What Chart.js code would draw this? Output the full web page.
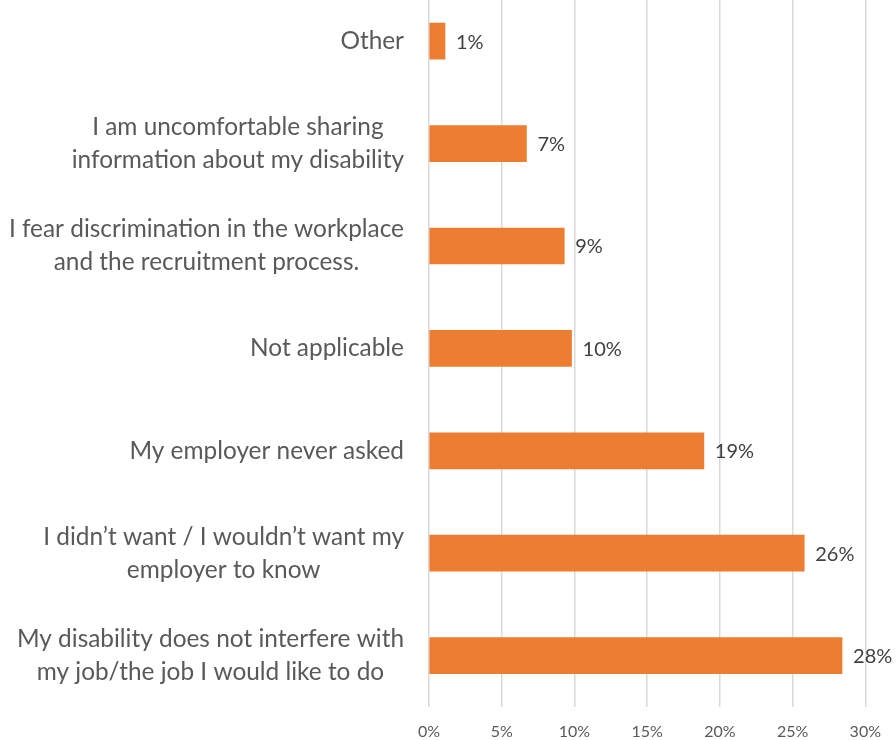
<!DOCTYPE html>
<html>
<head>
<meta charset="utf-8">
<script src="https://cdn.jsdelivr.net/npm/chart.js@4/dist/chart.umd.min.js"></script>
<style>
  html, body { margin: 0; padding: 0; background: #fff; overflow: hidden; }
  #wrap { position: absolute; left: 0; top: -10px; width: 896px; height: 780px; }
</style>
</head>
<body>
<div id="wrap"><canvas id="chart"></canvas></div>
<script>
const reasons = [
    ["Other"],
    ["I am uncomfortable sharing", "information about my disability"],
    ["I fear discrimination in the workplace", "and the recruitment process."],
    ["Not applicable"],
    ["My employer never asked"],
    ["I didn\u2019t want / I wouldn\u2019t want my", "employer to know"],
    ["My disability does not interfere with", "my job/the job I would like to do"],
]
const shares = [1.1, 6.7, 9.3, 9.8, 18.9, 25.8, 28.4]
const ticks = [0, 5, 10, 15, 20, 25, 30]

const orange = "#ED7D31"
const grey = "#595959"
const fontFamily = "Lato, 'Open Sans', sans-serif"

// category labels: each block centred on itself, right edge at 404
const reasonLabels = {
    id: 'reasonLabels',
    afterDraw(chart) {
        const ctx = chart.ctx
        const y = chart.scales.y
        ctx.save()
        ctx.font = "24.4px " + fontFamily
        ctx.fillStyle = grey
        ctx.textBaseline = 'middle'
        ctx.textAlign = 'center'
        const lineH = 33
        reasons.forEach((lines, i) => {
            const w = Math.max(...lines.map(l => ctx.measureText(l).width))
            const cx = 404 - w / 2
            const cy = y.getPixelForValue(i)
            lines.forEach((l, j) => {
                ctx.fillText(l, cx, cy + (j - (lines.length - 1) / 2) * lineH)
            })
        })
        ctx.restore()
    }
}

// value labels to the right of each bar
const valueLabels = {
    id: 'valueLabels',
    afterDatasetsDraw(chart) {
        const ctx = chart.ctx
        const meta = chart.getDatasetMeta(0)
        ctx.save()
        ctx.font = "20px " + fontFamily
        ctx.fillStyle = "#404040"
        ctx.textBaseline = 'middle'
        ctx.textAlign = 'left'
        meta.data.forEach((bar, i) => {
            ctx.fillText(Math.round(shares[i]) + "%", bar.x + 11, bar.y + 1)
        })
        ctx.restore()
    }
}

new Chart(document.getElementById('chart'), {
    type: 'bar',
    data: {
        labels: reasons.map(r => r.join(' ')),
        datasets: [{
            data: shares,
            backgroundColor: orange,
            borderColor: orange,
            borderWidth: 0,
            barThickness: 36,
        }]
    },
    options: {
        indexAxis: 'y',
        responsive: true,
        maintainAspectRatio: false,
        animation: false,
        layout: { padding: { left: 0, right: 24, top: 0, bottom: 14 } },
        plugins: {
            legend: { display: false },
            tooltip: { enabled: false },
        },
        scales: {
            x: {
                min: 0,
                max: 30,
                afterBuildTicks(scale) {
                    scale.ticks = ticks.map(v => ({ value: v }))
                },
                grid: { color: "#D9D9D9", lineWidth: 1.5, drawTicks: false },
                border: { display: false },
                ticks: {
                    padding: 15,
                    color: grey,
                    font: { family: fontFamily, size: 16 },
                    callback: v => v + "%",
                },
            },
            y: {
                grid: { display: false },
                border: { display: false },
                ticks: { display: false },
                afterFit(scale) { scale.width = 429 },
            },
        },
    },
    plugins: [reasonLabels, valueLabels],
})
</script>
</body>
</html>
